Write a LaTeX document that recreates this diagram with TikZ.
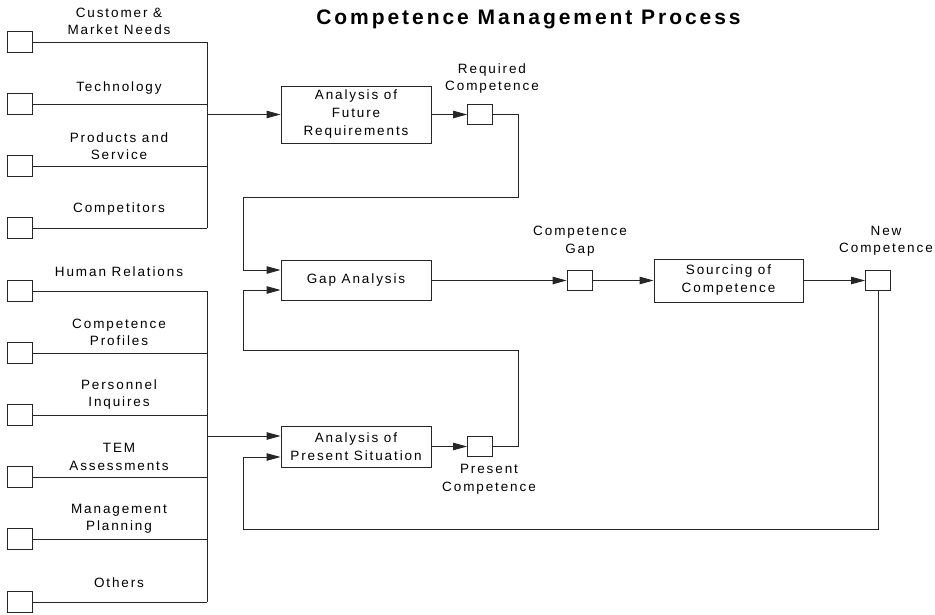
\documentclass[tikz,border=0pt]{standalone}
\usepackage{fontspec}
\setmainfont{Liberation Sans}
\newfontfamily\spacedfont[LetterSpace=14]{Liberation Sans}
\newfontfamily\titlefont[LetterSpace=14]{Liberation Sans}
\usetikzlibrary{arrows.meta,calc}
\begin{document}
\begin{tikzpicture}[x=1pt,y=-1pt,
  line/.style={draw=black!85, line width=0.9pt},
  flow/.style={line, -{Triangle[length=14pt,width=7.5pt]}},
  port/.style={draw=black!85, line width=0.9pt, minimum width=25pt, minimum height=20.5pt, inner sep=0pt},
  proc/.style={draw=black!85, line width=0.9pt, minimum width=150pt, inner sep=0pt, align=center,
               font=\fontsize{13.5}{18}\spacedfont},
  lbl/.style={align=center, inner sep=0pt, font=\fontsize{13.5}{17.5}\spacedfont}
]
\useasboundingbox (0,0) rectangle (935,614);

% title
\node[inner sep=0pt, font=\fontsize{21}{24}\titlefont\bfseries] (title) at (528.5,19.5) {Competence Management Process};

% external inputs: future requirements
\foreach \n/\y in {1/42,2/104,3/166,4/228}{
  \node[port] (f\n) at (19.5,\y) {};
  \coordinate (fb\n) at (207,\y);
  \draw[line] (f\n.east) -- (fb\n);
}
\draw[line] (fb1) -- (fb4);
\node[lbl] (fl1) at (119,21.5) {Customer \&\\Market Needs};
\node[lbl] (fl2) at (119,88) {Technology};
\node[lbl] (fl3) at (119,146) {Products and\\Service};
\node[lbl] (fl4) at (119,209) {Competitors};

% external inputs: present situation
\foreach \n/\y in {1/291,2/353,3/415,4/477,5/539,6/602}{
  \node[port] (p\n) at (19.5,\y) {};
  \coordinate (pb\n) at (207,\y);
  \draw[line] (p\n.east) -- (pb\n);
}
\draw[line] (pb1) -- (pb6);
\node[lbl] (pl1) at (119,272) {Human Relations};
\node[lbl] (pl2) at (119,332.5) {Competence\\Profiles};
\node[lbl] (pl3) at (119,394.5) {Personnel\\Inquires};
\node[lbl] (pl4) at (119,457) {TEM\\Assessments};
\node[lbl] (pl5) at (119,518.5) {Management\\Planning};
\node[lbl] (pl6) at (119,583) {Others};

% process steps
\node[proc, minimum height=57pt] (afr) at (356,114.5) {Analysis of\\Future\\Requirements};
\node[proc, minimum height=40pt] (gap) at (356,280.5) {Gap Analysis};
\node[proc, minimum height=41pt] (aps) at (356,446.5) {Analysis of\\Present Situation};
\node[proc, minimum width=149pt, minimum height=43pt] (src) at (728.5,280.5) {Sourcing of\\Competence};

% intermediate results
\node[port] (req) at (480,114.5) {};
\node[port] (pres) at (480,446.5) {};
\node[port] (cgap) at (579.5,280.5) {};
\node[port] (newc) at (878,280.5) {};
\node[lbl] (reql) at (492,78.5) {Required\\Competence};
\node[lbl] (presl) at (489,479) {Present\\Competence};
\node[lbl] (cgapl) at (580,241) {Competence\\Gap};
\node[lbl] (newcl) at (886,241) {New\\Competence};

% bus joints and loop corners
\coordinate (j1) at (207,114.5);
\coordinate (j2) at (207,436);
\coordinate (c1) at (518,197);
\coordinate (c2) at (243,270);
\coordinate (c3) at (518,350);
\coordinate (c4) at (243,290);
\coordinate (c5) at (243,529);

% connectors
\draw[flow] (j1) -- (afr.west);
\draw[flow] (j2) -- ($(aps.west)+(0,-10.5)$);
\draw[flow] (afr.east) -- (req.west);
\draw[flow] (aps.east) -- (pres.west);
\draw[flow] (req.east) -| (c1) -| (c2) -- ($(gap.west)+(0,-10.5)$);
\draw[flow] (pres.east) -| (c3) -| (c4) -- ($(gap.west)+(0,9.5)$);
\draw[flow] (gap.east) -- (cgap.west);
\draw[flow] (cgap.east) -- (src.west);
\draw[flow] (src.east) -- (newc.west);
\draw[flow] (newc.south) |- (c5) |- ($(aps.west)+(0,10.5)$);
\end{tikzpicture}
\end{document}
